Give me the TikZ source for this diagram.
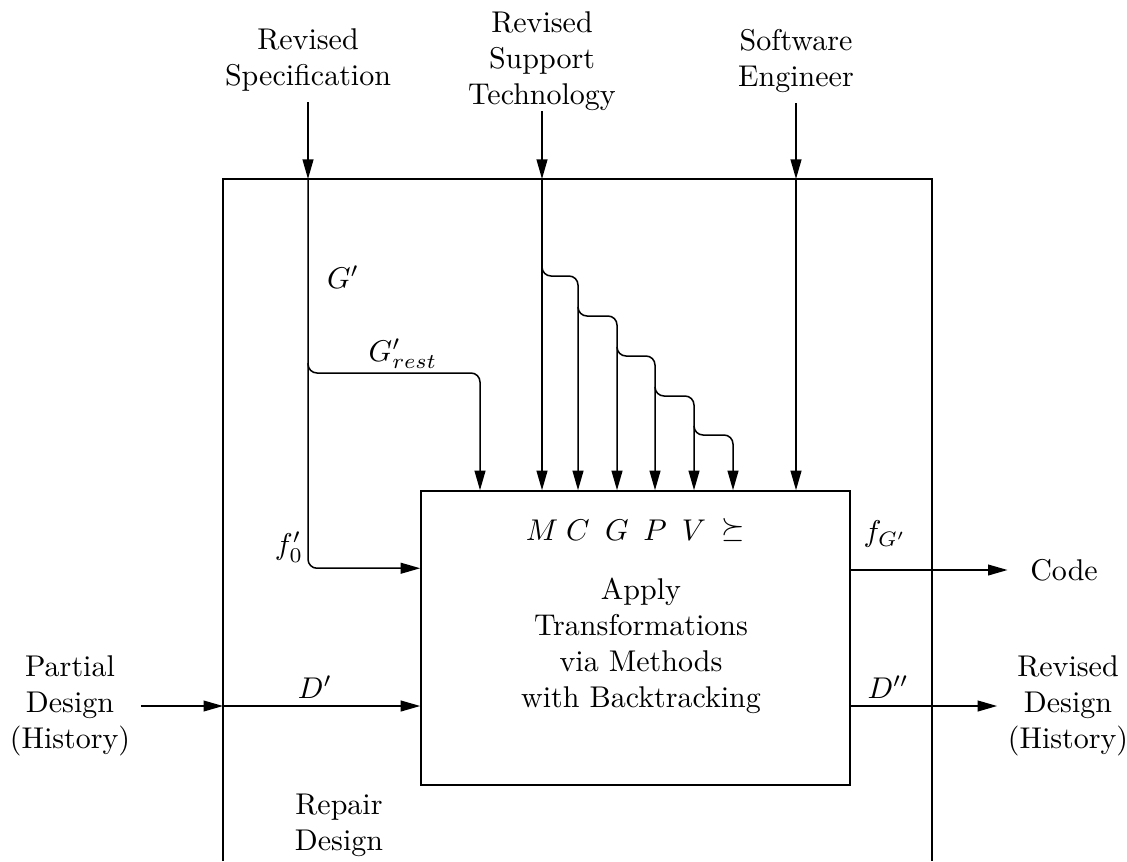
\documentclass[tikz,border=0pt]{standalone}
\usetikzlibrary{arrows.meta,calc}
\tikzset{feed/.style={-{Triangle[length=6.5pt,width=3.6pt]}}}

\begin{document}
\begin{tikzpicture}[x=0.3333pt, y=0.3333pt, line width=0.5pt, txt/.style={align=center}]
  \useasboundingbox (0,0) rectangle (1127,861);
  % outer activity (open at the bottom)
  \coordinate (onw) at (223,682);
  \coordinate (one) at (932,682);
  \draw (onw |- 0,0) -- (onw) -- (one) -- (one |- 0,0);
  \node[txt] (repair) at (339,36) {Repair\\Design};
  % inner activity
  \node[draw, minimum width=143pt, minimum height=98pt, inner sep=0pt] (apply) at (635.5,223) {};
  \node[txt] (applytxt) at (641,215) {Apply\\Transformations\\via Methods\\with Backtracking};
  \foreach \n/\x/\s in {sM/542/M, sC/578/C, sG/617/G, sP/655/P, sV/694/V, sS/733/\succeq}
    \node (\n) at (\x,331) {$\s$};
  % controls on top
  \node[txt] (spec) at (308,801) {Revised\\Specification};
  \node[txt, inner sep=0pt] (tech) at (542,800) {Revised\\Support\\Technology};
  \node[txt] (eng) at (796,800) {Software\\Engineer};
  % specification split
  \draw[feed] (spec) -- (spec |- onw);
  \draw[feed, rounded corners=3pt] (spec |- onw) |- ($(apply.north west)+(0,-78)$);
  \coordinate (rest) at (480,488);
  \draw[feed, rounded corners=3pt] (spec |- 0,498) |- (rest) -- (rest |- apply.north);
  \node (gp) at (343,584) {$G'$};
  \node (grest) at (403,507) {$G'_{rest}$};
  \node (f0) at (289,314) {$f'_0$};
  % technology staircase
  \draw[feed] (tech) -- (tech |- onw);
  \draw[feed] (tech |- onw) -- (sM |- apply.north);
  \foreach \a/\b/\y in {sM/sC/593, sC/sG/553, sG/sP/513, sP/sV/473, sV/sS/434}
    \draw[feed, rounded corners=3pt] (\a |- 0,\y) |- ($(\b |- 0,\y)+(0,-8)$) -- (\b |- apply.north);
  % engineer
  \draw[feed] (eng) -- (eng |- onw);
  \draw[feed] (eng |- onw) -- (eng |- apply.north);
  % input design
  \node[txt] (partial) at (70,155) {Partial\\Design\\(History)};
  \draw[feed] (partial) -- (onw |- partial);
  \draw[feed] (onw |- partial) -- (apply.west |- partial);
  \node (dp) at (315,174) {$D'$};
  % outputs
  \node (code) at (1064,291) {Code};
  \draw[feed, shorten >=4pt] (apply.east |- code) -- (code);
  \node (fg) at (885,327) {$f_{G'}$};
  \node[txt] (rdes) at (1068,155) {Revised\\Design\\(History)};
  \draw[feed] (apply.east |- rdes) -- (rdes);
  \node (dpp) at (888,174) {$D''$};
\end{tikzpicture}
\end{document}
